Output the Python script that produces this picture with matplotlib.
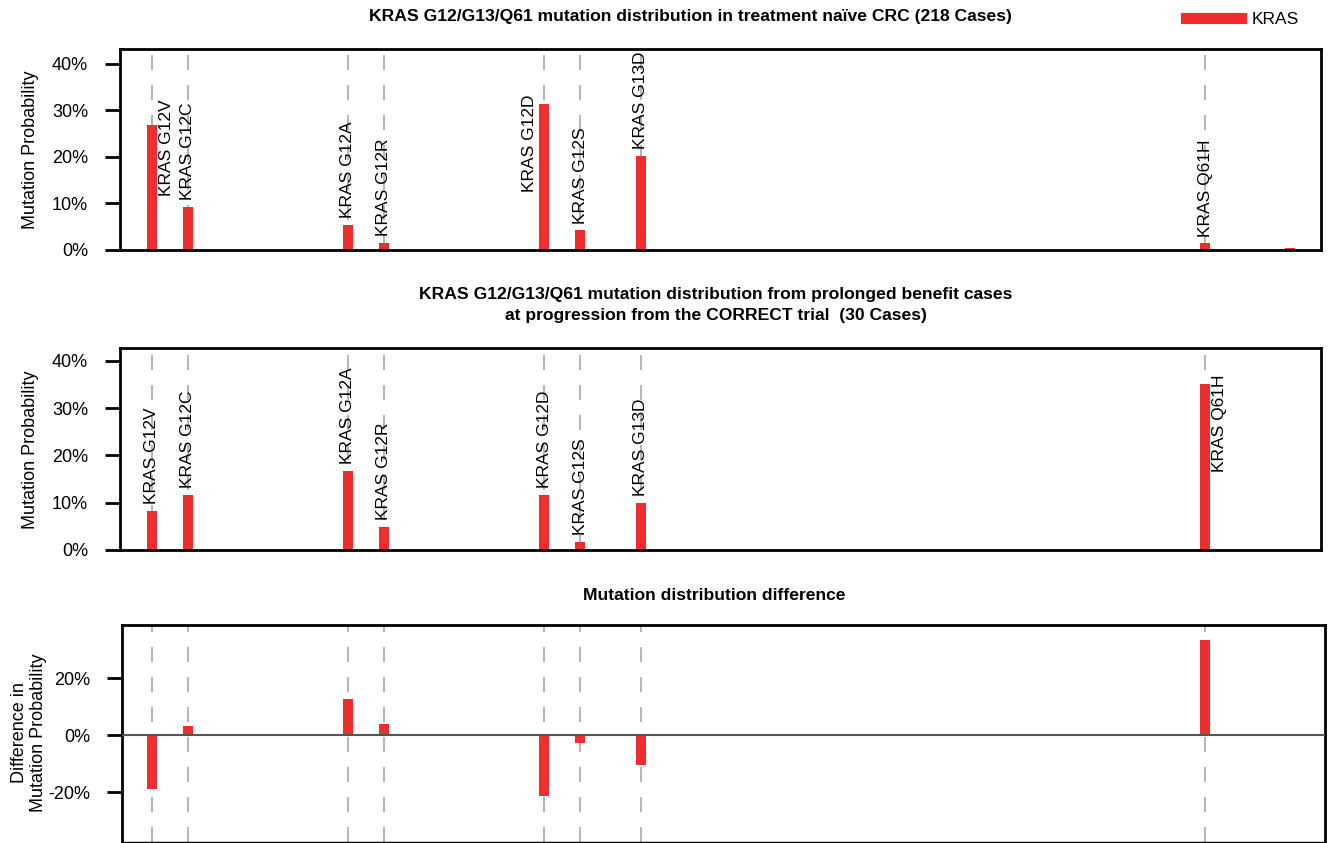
import matplotlib
matplotlib.use("Agg")
import matplotlib.pyplot as plt
from matplotlib.lines import Line2D

plt.rcParams["font.family"] = ["Liberation Sans", "DejaVu Sans"]

# mutation sites along the x axis (last site carries no label)
mutations = ["KRAS G12V", "KRAS G12C", "KRAS G12A", "KRAS G12R", "KRAS G12D",
             "KRAS G12S", "KRAS G13D", "KRAS Q61H", ""]
site = [1.0, 2.0, 6.44, 7.44, 11.89, 12.89, 14.58, 30.25, 32.61]

# mutation probability (%) per cohort
naive_pct = [26.8, 9.2, 5.4, 1.5, 31.4, 4.2, 20.2, 1.4, 0.46]
correct_pct = [8.2, 11.6, 16.7, 4.8, 11.6, 1.6, 9.9, 35.2, 0.0]
diff_pct = [-18.8, 3.3, 12.8, 3.9, -21.5, -2.7, -10.4, 33.3, 0.0]

title_naive = "KRAS G12/G13/Q61 mutation distribution in treatment naïve CRC (218 Cases)"
title_correct = ("KRAS G12/G13/Q61 mutation distribution from prolonged benefit cases\n"
                 "at progression from the CORRECT trial  (30 Cases)")
title_diff = "Mutation distribution difference"

RED = "#ee2e2e"
W, H = 1329, 843
LABEL_FS = 12.5
TITLE_FS = 12.6

fig = plt.figure(figsize=(W / 100, H / 100), dpi=100)


def px_axes(left, top, right, bottom):
    return fig.add_axes([left / W, 1 - bottom / H, (right - left) / W, (bottom - top) / H])


def style_axes(ax, left_px, right_px):
    # x scale: 36 px per unit, G12V sits at x=1 (px 152)
    ax.set_xlim(1 - (152 - left_px) / 36, 1 + (right_px - 152) / 36)
    ax.set_xticks([])
    for s in ax.spines.values():
        s.set_linewidth(2)
    ax.tick_params(axis="y", direction="out", length=11, width=2, pad=12, labelsize=13)
    ax.yaxis.set_major_formatter(lambda v, p: f"{v:.0f}%")
    for x, name in zip(site, mutations):
        if name:
            ax.axvline(x, color="#a8a8a8", lw=1.2, ls=(0, (9, 9)), zorder=0)


def label_bars(ax, values, beside):
    top = ax.get_ylim()[1]
    for x, v, name in zip(site, values, mutations):
        if not name:
            continue
        side = beside.get(name, 0)
        if side:
            ax.text(x + 0.4 * side, max(v + 2, 0.75 * top), name, rotation=90,
                    ha="center", va="top", fontsize=LABEL_FS)
        else:
            ax.annotate(name, (x, v), xytext=(0, 5), textcoords="offset points",
                        rotation=90, ha="center", va="bottom", fontsize=LABEL_FS)


# treatment naive
ax1 = px_axes(120, 49, 1321, 250)
style_axes(ax1, 120, 1321)
ax1.bar(site, naive_pct, width=0.28, color=RED, zorder=2)
ax1.set_ylim(0, 43.2)
ax1.set_yticks([0, 10, 20, 30, 40])
label_bars(ax1, naive_pct, {"KRAS G12V": 1, "KRAS G12D": -1})

# CORRECT trial progression
ax2 = px_axes(120, 348, 1321, 550)
style_axes(ax2, 120, 1321)
ax2.bar(site, correct_pct, width=0.28, color=RED, zorder=2)
ax2.set_ylim(0, 42.75)
ax2.set_yticks([0, 10, 20, 30, 40])
label_bars(ax2, correct_pct, {"KRAS Q61H": 1})

# difference
ax3 = px_axes(122, 625, 1325, 842)
style_axes(ax3, 122, 1325)
ax3.bar(site, diff_pct, width=0.28, color=RED, zorder=2)
ax3.axhline(0, color="#555555", lw=1.5, zorder=3)
ax3.set_ylim(-37.5, 38.6)
ax3.set_yticks([-20, 0, 20])
ax3.spines["bottom"].set_linewidth(1)

fig.text(690 / W, 1 - 16 / H, title_naive, ha="center", va="center", fontsize=TITLE_FS, fontweight="bold")
fig.text(716 / W, 1 - 305 / H, title_correct, ha="center", va="center", fontsize=TITLE_FS,
         fontweight="bold", linespacing=1.45)
fig.text(714 / W, 1 - 596 / H, title_diff, ha="center", va="center", fontsize=TITLE_FS, fontweight="bold")

fig.text(31 / W, 1 - 150 / H, "Mutation Probability", rotation=90, ha="center", va="center", fontsize=13)
fig.text(31 / W, 1 - 450 / H, "Mutation Probability", rotation=90, ha="center", va="center", fontsize=13)
fig.text(29 / W, 1 - 733 / H, "Difference in\nMutation Probability", rotation=90, ha="center",
         va="center", multialignment="center", fontsize=13)

fig.legend(handles=[Line2D([], [], color=RED, lw=8)], labels=["KRAS"], loc="center left",
           bbox_to_anchor=(1170 / W, 1 - 19 / H), frameon=False, handlelength=3.2,
           handletextpad=0.6, fontsize=LABEL_FS)

fig.savefig("out.png", dpi=100, facecolor="white")
